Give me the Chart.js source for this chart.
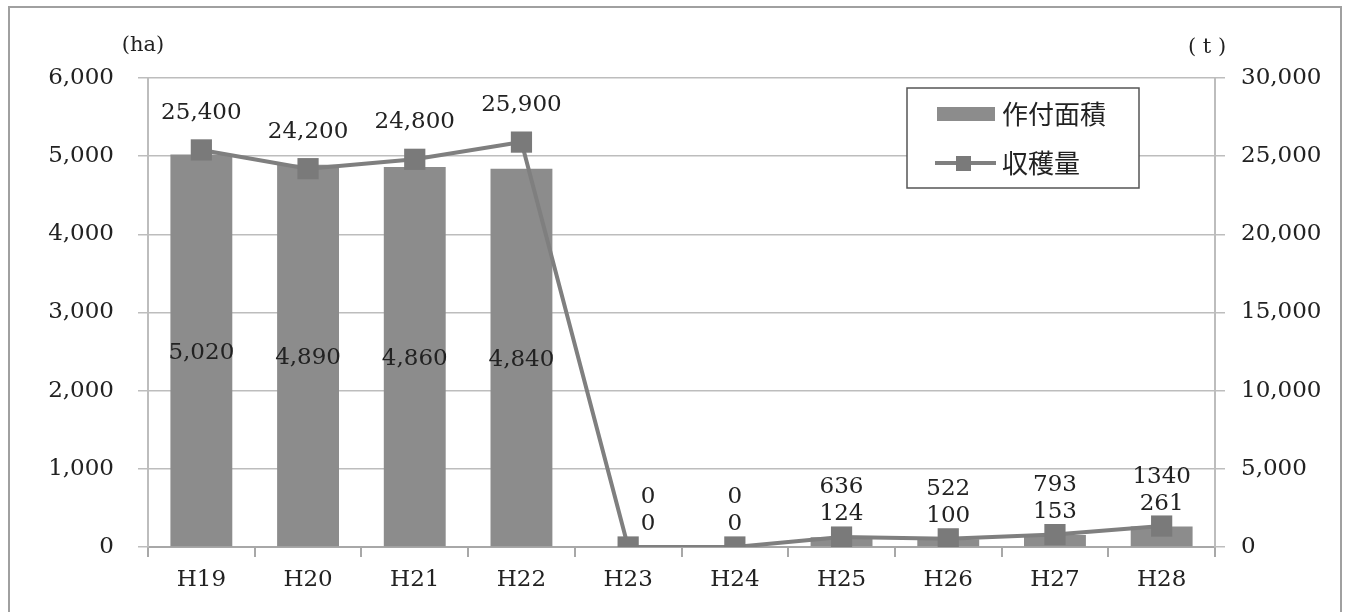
<!DOCTYPE html>
<html lang="ja">
<head>
<meta charset="UTF-8">
<title>作付面積・収穫量</title>
<script src="https://cdn.jsdelivr.net/npm/chart.js"></script>
<style>
  html, body { margin: 0; padding: 0; background: #fff; }
  #wrap { position: relative; width: 1350px; height: 612px; overflow: hidden; }
  #frame { position: absolute; left: 8px; top: 6px; width: 1334px; height: 700px; border: 2px solid #a0a0a0; box-sizing: border-box; }
  canvas { position: absolute; left: 0; top: 0; }
</style>
</head>
<body>
<div id="wrap">
  <div id="frame"></div>
  <canvas id="myChart" width="1350" height="612"></canvas>
</div>
<script>
// data
var years = ['H19', 'H20', 'H21', 'H22', 'H23', 'H24', 'H25', 'H26', 'H27', 'H28'];
var areaHa = [5020, 4890, 4860, 4840, 0, 0, 124, 100, 153, 261];
var harvestT = [25400, 24200, 24800, 25900, 0, 0, 636, 522, 793, 1340];
var harvestText = ['25,400', '24,200', '24,800', '25,900', '0', '0', '636', '522', '793', '1340'];
var leftTicks = [0, 1000, 2000, 3000, 4000, 5000, 6000];
var rightTicks = [0, 5000, 10000, 15000, 20000, 25000, 30000];

var serif = '"DejaVu Serif", "Liberation Serif", serif';
var gothic = '"Noto Sans CJK JP", "Noto Sans", sans-serif';

var labelPlugin = {
    id: 'valueLabels',
    afterDatasetsDraw: function (chart) {
        var ctx = chart.ctx;
        var barMeta = chart.getDatasetMeta(1);
        var lineMeta = chart.getDatasetMeta(0);
        var yBase = chart.scales.yL.getPixelForValue(0);
        ctx.save();
        ctx.font = '23px ' + serif;
        ctx.fillStyle = '#222';
        ctx.textAlign = 'center';
        ctx.textBaseline = 'middle';
        for (var i = 0; i < years.length; i++) {
            var bar = barMeta.data[i];
            var pt = lineMeta.data[i];
            var big = (yBase - bar.y) > 60;
            var barY = big ? (bar.y + yBase) / 2 + 2 : bar.y - 23;
            var lineY = Math.min(pt.y - 37, barY - 27);
            var dx = (i === 4) ? 20 : 0;
            ctx.fillText(areaHa[i].toLocaleString('en-US'), bar.x + dx, barY);
            ctx.fillText(harvestText[i], pt.x + dx, lineY);
        }
        ctx.restore();
    },
    afterDraw: function (chart) {
        var ctx = chart.ctx;
        ctx.save();
        // unit labels
        ctx.font = '21px ' + serif;
        ctx.fillStyle = '#222';
        ctx.textBaseline = 'middle';
        ctx.textAlign = 'center';
        ctx.fillText('(ha)', 143, 46);
        ctx.fillText('( t )', 1207, 48);

        // legend box
        var lx = 907, ly = 88, lw = 232, lh = 100;
        ctx.fillStyle = '#fff';
        ctx.fillRect(lx, ly, lw, lh);
        ctx.strokeStyle = '#555';
        ctx.lineWidth = 1.5;
        ctx.strokeRect(lx, ly, lw, lh);

        var ds = chart.data.datasets;
        ctx.font = '26px ' + gothic;
        ctx.textAlign = 'left';
        // bar item
        ctx.fillStyle = ds[1].backgroundColor;
        ctx.fillRect(937, 107, 58, 14);
        ctx.fillStyle = '#222';
        ctx.fillText(ds[1].label, 1002, 114);
        // line item
        ctx.strokeStyle = ds[0].borderColor;
        ctx.lineWidth = 4;
        ctx.beginPath();
        ctx.moveTo(935, 163);
        ctx.lineTo(996, 163);
        ctx.stroke();
        ctx.fillStyle = ds[0].pointBackgroundColor;
        ctx.fillRect(956, 156, 15, 15);
        ctx.fillStyle = '#222';
        ctx.fillText(ds[0].label, 1002, 163);
        ctx.restore();
    }
};

var ctx = document.getElementById('myChart').getContext('2d');
var myChart = new Chart(ctx, {
    type: 'bar',
    data: {
        labels: years,
        datasets: [{
            type: 'line',
            label: '収穫量',
            data: harvestT,
            yAxisID: 'yR',
            borderColor: '#7f7f7f',
            borderWidth: 4,
            pointStyle: 'rect',
            pointRadius: 15,
            pointBackgroundColor: '#7a7a7a',
            pointBorderColor: '#7a7a7a',
            pointBorderWidth: 0,
            tension: 0,
            order: 0
        }, {
            type: 'bar',
            label: '作付面積',
            data: areaHa,
            yAxisID: 'yL',
            backgroundColor: '#8c8c8c',
            categoryPercentage: 0.58,
            barPercentage: 1.0,
            order: 1
        }]
    },
    options: {
        responsive: false,
        animation: false,
        layout: { padding: { top: 78, left: 0, right: 0, bottom: 0 } },
        plugins: {
            legend: { display: false },
            tooltip: { enabled: false }
        },
        scales: {
            x: {
                offset: true,
                grid: {
                    offset: true,
                    drawOnChartArea: false,
                    drawTicks: true,
                    tickLength: 10,
                    color: '#a8a8a8',
                    lineWidth: 2
                },
                border: { color: '#a8a8a8', width: 2 },
                ticks: {
                    font: { family: serif, size: 23 },
                    color: '#222',
                    padding: 9,
                    maxRotation: 0
                },
                afterFit: function (scale) { scale.height = 65; }
            },
            yL: {
                position: 'left',
                min: 0,
                max: 6000,
                afterBuildTicks: function (scale) {
                    scale.ticks = leftTicks.map(function (v) { return { value: v }; });
                },
                grid: { color: '#bdbdbd', lineWidth: 1.5, tickLength: 10 },
                border: { color: '#bdbdbd', width: 2 },
                ticks: {
                    font: { family: serif, size: 23 },
                    color: '#222',
                    padding: 24,
                    callback: function (v) { return v.toLocaleString('en-US'); }
                },
                afterFit: function (scale) { scale.width = 148; }
            },
            yR: {
                position: 'right',
                min: 0,
                max: 30000,
                afterBuildTicks: function (scale) {
                    scale.ticks = rightTicks.map(function (v) { return { value: v }; });
                },
                grid: { drawOnChartArea: false, color: '#bdbdbd', lineWidth: 1.5, tickLength: 10 },
                border: { color: '#bdbdbd', width: 2 },
                ticks: {
                    font: { family: serif, size: 23 },
                    color: '#222',
                    padding: 16,
                    callback: function (v) { return v.toLocaleString('en-US'); }
                },
                afterFit: function (scale) { scale.width = 135; }
            }
        }
    },
    plugins: [labelPlugin]
});
</script>
</body>
</html>
